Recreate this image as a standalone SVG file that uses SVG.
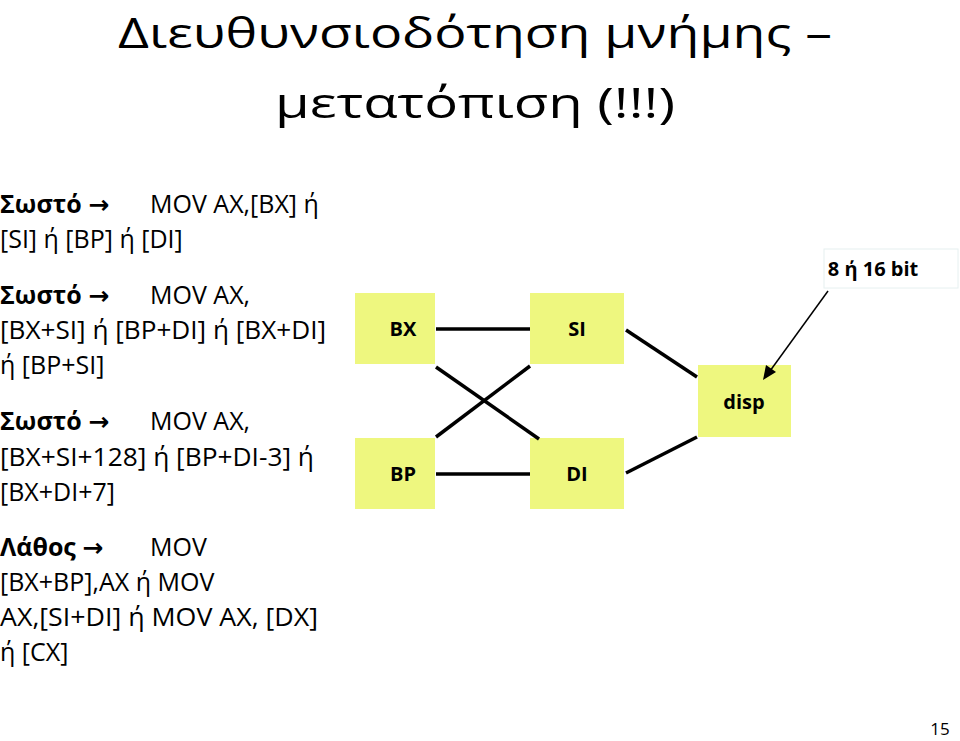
<svg xmlns="http://www.w3.org/2000/svg" width="960" height="741" viewBox="0 0 960 741">
<style>
text{font-family:"Open Sans","DejaVu Sans",sans-serif;fill:#000}
.t{font-size:42px;font-weight:500}
.b{font-size:25px}
.n{fill:#eef77f}
.l{font-size:20px;font-weight:bold}
.c line{stroke:#000;stroke-width:3.5}
</style>
<rect width="960" height="741" fill="#fff"/>
<text class="t" x="475" y="48" text-anchor="middle" textLength="714" lengthAdjust="spacingAndGlyphs">Διευθυνσιοδότηση μνήμης –</text>
<text class="t" x="475" y="118" text-anchor="middle" textLength="400" lengthAdjust="spacingAndGlyphs">μετατόπιση (!!!)</text>
<g class="b">
<text x="0" y="213"><tspan font-weight="bold">Σωστό →</tspan><tspan x="150">MOV AX,[BX] ή</tspan></text>
<text x="0" y="248">[SI] ή [BP] ή [DI]</text>
<text x="0" y="304"><tspan font-weight="bold">Σωστό →</tspan><tspan x="150">MOV AX,</tspan></text>
<text x="0" y="339" textLength="326" lengthAdjust="spacingAndGlyphs">[BX+SI] ή [BP+DI] ή [BX+DI]</text>
<text x="0" y="374">ή [BP+SI]</text>
<text x="0" y="430"><tspan font-weight="bold">Σωστό →</tspan><tspan x="150">MOV AX,</tspan></text>
<text x="0" y="466" textLength="314" lengthAdjust="spacingAndGlyphs">[BX+SI+128] ή [BP+DI-3] ή</text>
<text x="0" y="501">[BX+DI+7]</text>
<text x="0" y="556"><tspan font-weight="bold">Λάθος →</tspan><tspan x="150">MOV</tspan></text>
<text x="0" y="591">[BX+BP],AX ή MOV</text>
<text x="0" y="626" textLength="318" lengthAdjust="spacingAndGlyphs">AX,[SI+DI] ή MOV AX, [DX]</text>
<text x="0" y="661">ή [CX]</text>
</g>
<g id="bx"><rect class="n" x="355" y="293" width="80" height="71"/><text class="l" x="403" y="336" text-anchor="middle">BX</text></g>
<g id="si"><rect class="n" x="530" y="293" width="94" height="71"/><text class="l" x="577" y="336" text-anchor="middle">SI</text></g>
<g id="bp"><rect class="n" x="355" y="438" width="80" height="71"/><text class="l" x="403" y="481" text-anchor="middle">BP</text></g>
<g id="di"><rect class="n" x="530" y="438" width="94" height="71"/><text class="l" x="577" y="481" text-anchor="middle">DI</text></g>
<g id="disp"><rect class="n" x="698" y="365" width="93" height="72"/><text class="l" x="744" y="409" text-anchor="middle">disp</text></g>
<g id="lbl"><rect x="824" y="249" width="134" height="39" fill="#fff" stroke="#e6f0f0"/><text class="l" x="873" y="276" text-anchor="middle">8 ή 16 bit</text></g>
<g class="c">
<line x1="436" y1="329" x2="530" y2="329"/>
<line x1="436" y1="474" x2="530" y2="474"/>
<line x1="436" y1="367" x2="539" y2="439"/>
<line x1="436" y1="437" x2="530" y2="366"/>
<line x1="626" y1="330" x2="697" y2="377"/>
<line x1="626" y1="473" x2="697" y2="437"/>
<line x1="828" y1="291" x2="770" y2="371" style="stroke-width:1.5"/>
<polygon points="763,380 766,365 776,372"/>
</g>
<text x="940" y="735" font-size="17" text-anchor="middle">15</text>
</svg>
